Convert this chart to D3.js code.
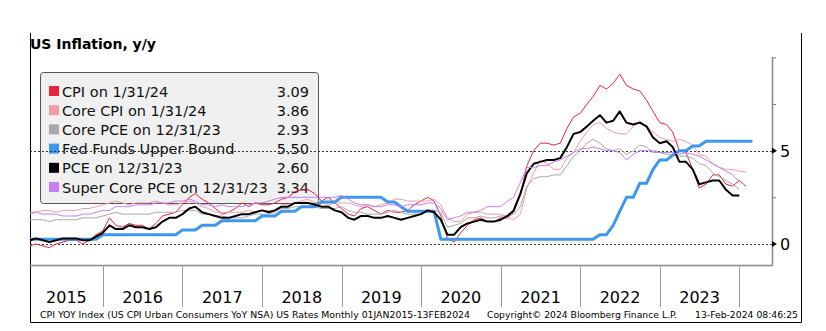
<!DOCTYPE html>
<html>
<head>
<meta charset="utf-8">
<script src="https://cdn.jsdelivr.net/npm/d3@7"></script>
<style>
  body { margin: 0; background: #fff; }
  svg text { font-family: "DejaVu Sans", Verdana, sans-serif; }
</style>
</head>
<body>
<div class="canvas"></div>
<script>
// monthly values, Jan 2015 onwards (one value per month)
const cpi = [
  -0.1, 0.0, -0.1, -0.2, 0.0, 0.1, 0.2, 0.2, 0.0, 0.2, 0.5, 0.7,
  1.4, 1.0, 0.9, 1.1, 1.0, 1.0, 0.8, 1.1, 1.5, 1.6, 1.7, 2.1,
  2.5, 2.7, 2.4, 2.2, 1.9, 1.6, 1.7, 1.9, 2.2, 2.0, 2.2, 2.1,
  2.1, 2.2, 2.4, 2.5, 2.8, 2.9, 2.9, 2.7, 2.3, 2.5, 2.2, 1.9,
  1.6, 1.5, 1.9, 2.0, 1.8, 1.6, 1.8, 1.7, 1.7, 1.8, 2.1, 2.3,
  2.5, 2.3, 1.5, 0.3, 0.1, 0.6, 1.0, 1.3, 1.4, 1.2, 1.2, 1.4,
  1.4, 1.7, 2.6, 4.2, 5.0, 5.4, 5.4, 5.3, 5.4, 6.2, 6.8, 7.0,
  7.5, 7.9, 8.5, 8.3, 8.6, 9.1, 8.5, 8.3, 8.2, 7.7, 7.1, 6.5,
  6.4, 6.0, 5.0, 4.9, 4.0, 3.0, 3.2, 3.7, 3.7, 3.2, 3.1, 3.4,
  3.09
];
const coreCpi = [
  1.6, 1.7, 1.8, 1.8, 1.7, 1.8, 1.8, 1.8, 1.9, 1.9, 2.0, 2.1,
  2.2, 2.3, 2.2, 2.1, 2.2, 2.2, 2.2, 2.3, 2.2, 2.1, 2.1, 2.2,
  2.3, 2.2, 2.0, 1.9, 1.7, 1.7, 1.7, 1.7, 1.7, 1.8, 1.7, 1.8,
  1.8, 1.8, 2.1, 2.1, 2.2, 2.3, 2.4, 2.2, 2.2, 2.1, 2.2, 2.2,
  2.2, 2.1, 2.0, 2.1, 2.0, 2.1, 2.2, 2.4, 2.4, 2.3, 2.3, 2.3,
  2.3, 2.4, 2.1, 1.4, 1.2, 1.2, 1.6, 1.7, 1.7, 1.6, 1.6, 1.6,
  1.4, 1.3, 1.6, 3.0, 3.8, 4.5, 4.3, 4.0, 4.0, 4.6, 4.9, 5.5,
  6.0, 6.4, 6.5, 6.2, 6.0, 5.9, 5.9, 6.3, 6.6, 6.3, 6.0, 5.7,
  5.6, 5.5, 5.6, 5.5, 5.3, 4.8, 4.7, 4.3, 4.1, 4.0, 4.0, 3.9,
  3.86
];
const corePce = [
  1.3, 1.3, 1.3, 1.2, 1.3, 1.3, 1.3, 1.3, 1.4, 1.4, 1.4, 1.5,
  1.6, 1.7, 1.6, 1.6, 1.6, 1.6, 1.6, 1.7, 1.7, 1.7, 1.7, 1.8,
  1.8, 1.8, 1.6, 1.6, 1.5, 1.5, 1.4, 1.4, 1.4, 1.5, 1.6, 1.6,
  1.6, 1.7, 1.9, 1.9, 2.0, 2.0, 2.0, 2.0, 1.9, 1.9, 1.9, 2.0,
  1.8, 1.7, 1.7, 1.6, 1.6, 1.6, 1.7, 1.8, 1.7, 1.6, 1.6, 1.6,
  1.8, 1.8, 1.7, 0.9, 1.0, 1.1, 1.4, 1.4, 1.5, 1.4, 1.4, 1.5,
  1.5, 1.6, 2.0, 3.1, 3.5, 3.6, 3.6, 3.7, 3.7, 4.2, 4.7, 5.0,
  5.4, 5.6, 5.4, 5.1, 5.0, 5.1, 4.8, 5.0, 5.3, 5.2, 4.9, 4.9,
  4.8, 4.8, 4.7, 4.7, 4.6, 4.3, 4.2, 3.8, 3.6, 3.4, 3.2, 2.93
];
const fedFunds = [
  0.25, 0.25, 0.25, 0.25, 0.25, 0.25, 0.25, 0.25, 0.25, 0.25, 0.25, 0.50,
  0.50, 0.50, 0.50, 0.50, 0.50, 0.50, 0.50, 0.50, 0.50, 0.50, 0.50, 0.75,
  0.75, 0.75, 1.00, 1.00, 1.00, 1.25, 1.25, 1.25, 1.25, 1.25, 1.25, 1.50,
  1.50, 1.50, 1.75, 1.75, 1.75, 2.00, 2.00, 2.00, 2.25, 2.25, 2.25, 2.50,
  2.50, 2.50, 2.50, 2.50, 2.50, 2.50, 2.25, 2.25, 2.00, 1.75, 1.75, 1.75,
  1.75, 1.75, 0.25, 0.25, 0.25, 0.25, 0.25, 0.25, 0.25, 0.25, 0.25, 0.25,
  0.25, 0.25, 0.25, 0.25, 0.25, 0.25, 0.25, 0.25, 0.25, 0.25, 0.25, 0.25,
  0.25, 0.25, 0.50, 0.50, 1.00, 1.75, 2.50, 2.50, 3.25, 3.25, 4.00, 4.50,
  4.50, 4.75, 5.00, 5.00, 5.25, 5.25, 5.50, 5.50, 5.50, 5.50, 5.50, 5.50,
  5.50, 5.50
];
const pce = [
  0.2, 0.3, 0.2, 0.1, 0.2, 0.3, 0.3, 0.3, 0.2, 0.2, 0.4, 0.6,
  1.0, 0.8, 0.8, 1.0, 0.9, 0.9, 0.8, 0.9, 1.2, 1.4, 1.4, 1.6,
  1.9, 2.0, 1.7, 1.6, 1.5, 1.4, 1.4, 1.5, 1.6, 1.6, 1.7, 1.8,
  1.7, 1.8, 2.0, 2.0, 2.2, 2.2, 2.2, 2.1, 2.0, 2.0, 1.8, 1.7,
  1.4, 1.3, 1.5, 1.5, 1.4, 1.4, 1.5, 1.4, 1.3, 1.4, 1.5, 1.6,
  1.8, 1.7, 1.3, 0.5, 0.5, 0.9, 1.1, 1.2, 1.3, 1.2, 1.2, 1.3,
  1.5, 1.8, 2.7, 3.8, 4.3, 4.4, 4.5, 4.5, 4.6, 5.2, 5.9, 6.0,
  6.3, 6.6, 6.9, 6.5, 6.6, 7.1, 6.5, 6.4, 6.5, 6.3, 5.7, 5.4,
  5.5, 5.2, 4.4, 4.4, 4.0, 3.2, 3.3, 3.4, 3.4, 2.9, 2.6, 2.6
];
const superCore = [
  1.7, 1.7, 1.6, 1.6, 1.6, 1.5, 1.5, 1.5, 1.6, 1.6, 1.7, 1.8,
  1.8, 2.0, 2.0, 2.0, 2.1, 2.1, 2.1, 2.2, 2.2, 2.2, 2.3, 2.3,
  2.4, 2.3, 2.1, 2.1, 2.0, 2.1, 2.0, 2.0, 2.0, 2.1, 2.2, 2.2,
  2.3, 2.4, 2.5, 2.5, 2.5, 2.5, 2.5, 2.5, 2.5, 2.5, 2.5, 2.6,
  2.4, 2.2, 2.1, 2.1, 2.0, 2.0, 2.1, 2.1, 2.0, 2.1, 2.1, 2.1,
  2.2, 2.2, 1.9, 1.3, 1.4, 1.5, 1.7, 1.7, 1.8, 2.0, 2.0, 2.0,
  2.3, 2.5, 3.3, 4.1, 4.1, 4.2, 4.2, 4.4, 4.5, 4.7, 4.9, 5.1,
  5.1, 5.2, 5.1, 5.0, 5.0, 4.9, 4.5, 4.8, 5.0, 5.0, 5.0, 4.9,
  4.9, 4.9, 4.8, 4.9, 4.8, 4.7, 4.5, 4.3, 4.1, 3.9, 3.7, 3.34
];

// legend / series info
const seriesNames = ['CPI on 1/31/24', 'Core CPI on 1/31/24', 'Core PCE on 12/31/23',
  'Fed Funds Upper Bound', 'PCE on 12/31/23', 'Super Core PCE on 12/31/23'];
const lastValues = ['3.09', '3.86', '2.93', '5.50', '2.60', '3.34'];
const years = [2015, 2016, 2017, 2018, 2019, 2020, 2021, 2022, 2023];
const yLabels = [0, 5];

const colors = ['#e8243c', '#f39aa6', '#a8a8a8', '#3d97ee', '#000000', '#c47ef4'];
const widths = [1, 1, 1, 3, 2, 1];
const allSeries = [cpi, coreCpi, corePce, fedFunds, pce, superCore];

const W = 826, H = 331;
const plot = {left: 30, right: 772, top: 57.3, bottom: 265};

const svg = d3.select('.canvas').append('svg')
    .attr('width', W)
    .attr('height', H);

// scales (points sit at month end)
const x = d3.scaleTime()
    .domain([new Date(2015, 1, 1), new Date(2024, 4, 30)])
    .range([plot.left, plot.right]);
const y = d3.scaleLinear()
    .domain([-1.125, 10])
    .range([plot.bottom, plot.top]);

const monthEnd = i => new Date(2015, 1 + i, 1);

// title
svg.append('text')
    .attr('x', 30).attr('y', 49)
    .attr('font-size', 14).attr('font-weight', 'bold')
    .text('US Inflation, y/y');

// outer frame
svg.append('path')
    .attr('d', `M30.5,33 V322.5 H801.5 V33`)
    .attr('fill', 'none').attr('stroke', '#000').attr('stroke-width', 1);

// legend box
const legend = svg.append('g');
legend.append('rect')
    .attr('x', 40.5).attr('y', 72.5)
    .attr('width', 278).attr('height', 131)
    .attr('rx', 3)
    .attr('fill', '#f0f0f0').attr('stroke', '#555');

seriesNames.forEach((name, i) => {
  const cy = 91 + i * 19.2;
  legend.append('rect')
      .attr('x', 49).attr('y', cy - 5)
      .attr('width', 10).attr('height', 10)
      .attr('fill', colors[i]);
  legend.append('text')
      .attr('x', 62).attr('y', cy + 5.5)
      .attr('font-size', 14.5).attr('fill', '#111')
      .text(name);
  legend.append('text')
      .attr('x', 309).attr('y', cy + 5.5)
      .attr('font-size', 14.5).attr('fill', '#111')
      .attr('text-anchor', 'end')
      .text(lastValues[i]);
});

// dotted reference lines
svg.append('g').selectAll('line')
    .data(yLabels)
    .join('line')
    .attr('x1', plot.left).attr('x2', plot.right)
    .attr('y1', d => Math.round(y(d)) + 0.5)
    .attr('y2', d => Math.round(y(d)) + 0.5)
    .attr('stroke', '#333')
    .attr('stroke-dasharray', '2,2');

// series lines
const line = d3.line()
    .x((d, i) => x(monthEnd(i)))
    .y(d => y(d));

allSeries.forEach((s, i) => {
  svg.append('path')
      .datum(s)
      .attr('fill', 'none')
      .attr('stroke', colors[i])
      .attr('stroke-width', widths[i])
      .attr('stroke-linejoin', 'round')
      .attr('d', line);
});

// right axis
const yAxisGroup = svg.append('g')
    .attr('transform', `translate(${plot.right}, 0)`)
    .call(d3.axisRight(y).tickValues([2.5, 7.5, 10]).tickSize(4).tickSizeOuter(0).tickFormat(''));
yAxisGroup.select('.domain').remove();
yAxisGroup.selectAll('line').attr('stroke', '#777');

// plot bottom + axis line
svg.append('path')
    .attr('d', `M${plot.left},${plot.bottom + 0.5} H${plot.right + 0.5} V${plot.top}`)
    .attr('fill', 'none').attr('stroke', '#888').attr('stroke-width', 1.5);

// arrows and labels at 0 and 5
const lab = svg.append('g').selectAll('g')
    .data(yLabels)
    .join('g')
    .attr('transform', d => `translate(${plot.right}, ${y(d)})`);
lab.append('path')
    .attr('d', 'M0,-3 L5,0 L0,3 Z')
    .attr('fill', '#000');
lab.append('text')
    .attr('x', 8).attr('y', 6)
    .attr('font-size', 16)
    .text(d => d);

// year separators and labels
const sepYears = years.slice(1).concat([2024]);
svg.append('g').selectAll('line')
    .data(sepYears)
    .join('line')
    .attr('x1', d => Math.round(x(new Date(d, 0, 1))) + 0.5)
    .attr('x2', d => Math.round(x(new Date(d, 0, 1))) + 0.5)
    .attr('y1', plot.bottom).attr('y2', 307)
    .attr('stroke', '#999');

svg.append('g').selectAll('text')
    .data(years)
    .join('text')
    .attr('x', d => {
      const a = Math.max(plot.left, x(new Date(d, 0, 1)));
      const b = x(new Date(d + 1, 0, 1));
      return (a + b) / 2;
    })
    .attr('y', 302.5)
    .attr('text-anchor', 'middle')
    .attr('font-size', 16)
    .text(d => d);

// footer
const foot = [
  {x: 40, w: 430, t: 'CPI YOY Index (US CPI Urban Consumers YoY NSA) US Rates  Monthly 01JAN2015-13FEB2024'},
  {x: 487, w: 190, t: 'Copyright\u00a9 2024 Bloomberg Finance L.P.'},
  {x: 695, w: 103, t: '13-Feb-2024 08:46:25'}
];
svg.append('g').selectAll('text')
    .data(foot)
    .join('text')
    .attr('x', d => d.x).attr('y', 318)
    .attr('font-size', 9.5)
    .attr('textLength', d => d.w)
    .attr('lengthAdjust', 'spacingAndGlyphs')
    .text(d => d.t);
</script>
</body>
</html>
